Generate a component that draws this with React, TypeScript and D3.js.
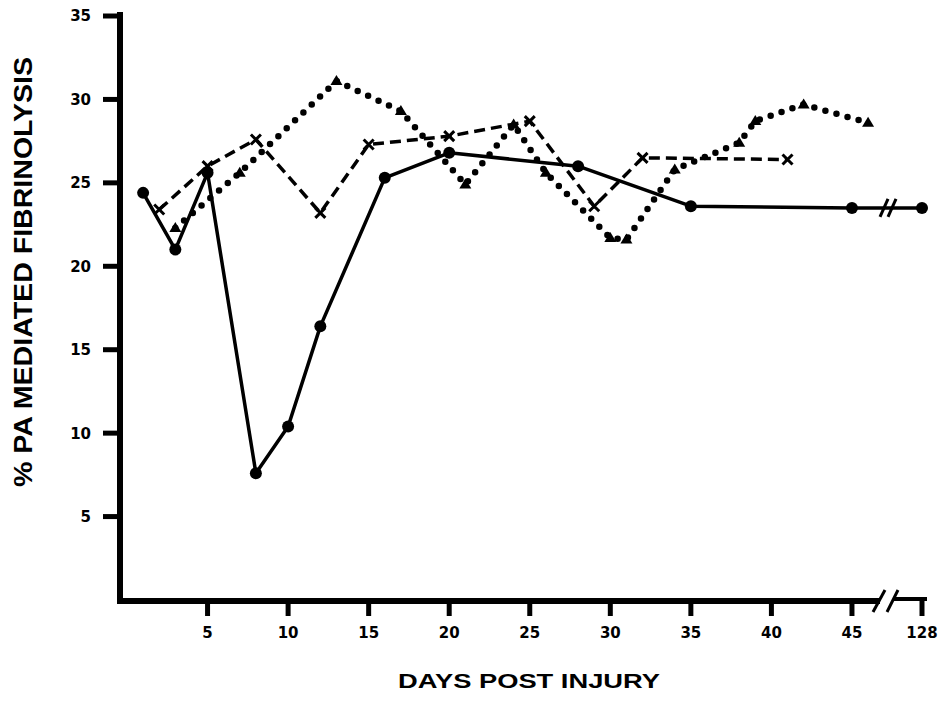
import * as React from "react"
import * as d3 from "d3"

// solid line, filled circles
const solidDays = [1, 3, 5, 8, 10, 12, 16, 20, 28, 35, 45, 128]
const solidValues = [24.4, 21.0, 25.6, 7.6, 10.4, 16.4, 25.3, 26.8, 26.0, 23.6, 23.5, 23.5]

// dashed line, x markers
const dashedDays = [2, 5, 8, 12, 15, 20, 25, 29, 32, 41]
const dashedValues = [23.4, 26.0, 27.6, 23.2, 27.3, 27.8, 28.7, 23.6, 26.5, 26.4]

// dotted line, triangles
const dottedDays = [3, 7, 13, 17, 21, 24, 26, 30, 31, 34, 38, 39, 42, 46]
const dottedValues = [22.3, 25.6, 31.1, 29.3, 24.9, 28.5, 25.6, 21.7, 21.6, 25.8, 27.4, 28.7, 29.7, 28.6]

const xTicks = [5, 10, 15, 20, 25, 30, 35, 40, 45, 128]
const yTicks = [5, 10, 15, 20, 25, 30, 35]

const W = 948
const H = 706

export default function App() {
    // broken axis: 0..48 linear, then jump to 128
    const x = d3.scaleLinear().domain([0, 48, 128]).range([127, 900.3, 922])
    const y = d3.scaleLinear().domain([0, 35]).range([600, 16])

    const line = d3.line<[number, number]>()
        .x(d => x(d[0]))
        .y(d => y(d[1]))

    const solid = solidDays.map((d, i) => [d, solidValues[i]] as [number, number])
    const dashed = dashedDays.map((d, i) => [d, dashedValues[i]] as [number, number])
    const dotted = dottedDays.map((d, i) => [d, dottedValues[i]] as [number, number])

    const axisY = 601
    const breakX = 880
    const lineBreakX = x(47.3)
    const lineBreakY = y(23.5)

    const numFont = "'DejaVu Sans', sans-serif"
    const titleFont = "'Liberation Sans', Arial, sans-serif"

    return (
        <svg width={W} height={H} style={{ position: "absolute", left: 0, top: 0, background: "#fff" }}>
            <rect width={W} height={H} fill="#fff" />

            {/* y axis */}
            <line x1={120} x2={120} y1={12} y2={axisY + 3} stroke="#000" strokeWidth={6} />
            {yTicks.map(t => (
                <g key={t}>
                    <line x1={103} x2={120} y1={y(t)} y2={y(t)} stroke="#000" strokeWidth={5} />
                    <text x={91} y={y(t)} dy="0.36em" textAnchor="end" fontFamily={numFont}
                        fontWeight="bold" fontSize={15}>{t}</text>
                </g>
            ))}

            {/* x axis with break */}
            <line x1={117} x2={breakX} y1={axisY} y2={axisY} stroke="#000" strokeWidth={6} />
            <line x1={breakX - 7} x2={breakX + 5} y1={axisY + 11} y2={axisY - 11} stroke="#000" strokeWidth={3} />
            <line x1={breakX + 7} x2={breakX + 18} y1={axisY + 11} y2={axisY - 11} stroke="#000" strokeWidth={3} />
            <line x1={breakX + 13} x2={x(128) + 5} y1={axisY - 2} y2={axisY - 2} stroke="#000" strokeWidth={4} />
            {xTicks.map(t => (
                <g key={t}>
                    <line x1={x(t)} x2={x(t)} y1={axisY} y2={axisY + 15} stroke="#000" strokeWidth={5} />
                    <text x={x(t)} y={638} textAnchor="middle" fontFamily={numFont}
                        fontWeight="bold" fontSize={15}>{t}</text>
                </g>
            ))}

            {/* series */}
            <path d={line(dotted) ?? ""} fill="none" stroke="#000" strokeWidth={6.5}
                strokeDasharray="0 11.5" strokeLinecap="round" strokeLinejoin="round" />
            {dotted.map((d, i) => {
                const cx = x(d[0]), cy = y(d[1])
                return <path key={i} d={`M${cx},${cy - 6}L${cx + 6},${cy + 4}L${cx - 6},${cy + 4}Z`} fill="#000" />
            })}

            <path d={line(dashed) ?? ""} fill="none" stroke="#000" strokeWidth={3.5}
                strokeDasharray="11 6" />
            {dashed.map((d, i) => {
                const cx = x(d[0]), cy = y(d[1])
                return <path key={i} d={`M${cx - 5},${cy - 5}L${cx + 5},${cy + 5}M${cx + 5},${cy - 5}L${cx - 5},${cy + 5}`}
                    stroke="#000" strokeWidth={3} />
            })}

            <path d={line(solid) ?? ""} fill="none" stroke="#000" strokeWidth={3.5} strokeLinejoin="round" />
            {solid.map((d, i) => (
                <circle key={i} cx={x(d[0])} cy={y(d[1])} r={6} fill="#000" />
            ))}
            <line x1={lineBreakX - 9} x2={lineBreakX - 1} y1={lineBreakY + 9} y2={lineBreakY - 9} stroke="#000" strokeWidth={3} />
            <line x1={lineBreakX - 1} x2={lineBreakX + 7} y1={lineBreakY + 9} y2={lineBreakY - 9} stroke="#000" strokeWidth={3} />

            {/* titles */}
            <text x={529} y={688} textAnchor="middle" fontFamily={titleFont} fontWeight="bold"
                fontSize={21} textLength={262} lengthAdjust="spacingAndGlyphs">DAYS POST INJURY</text>
            <text transform="translate(32,272) rotate(-90)" textAnchor="middle" fontFamily={titleFont}
                fontWeight="bold" fontSize={26} textLength={430} lengthAdjust="spacingAndGlyphs">
                % PA MEDIATED FIBRINOLYSIS
            </text>
        </svg>
    )
}
